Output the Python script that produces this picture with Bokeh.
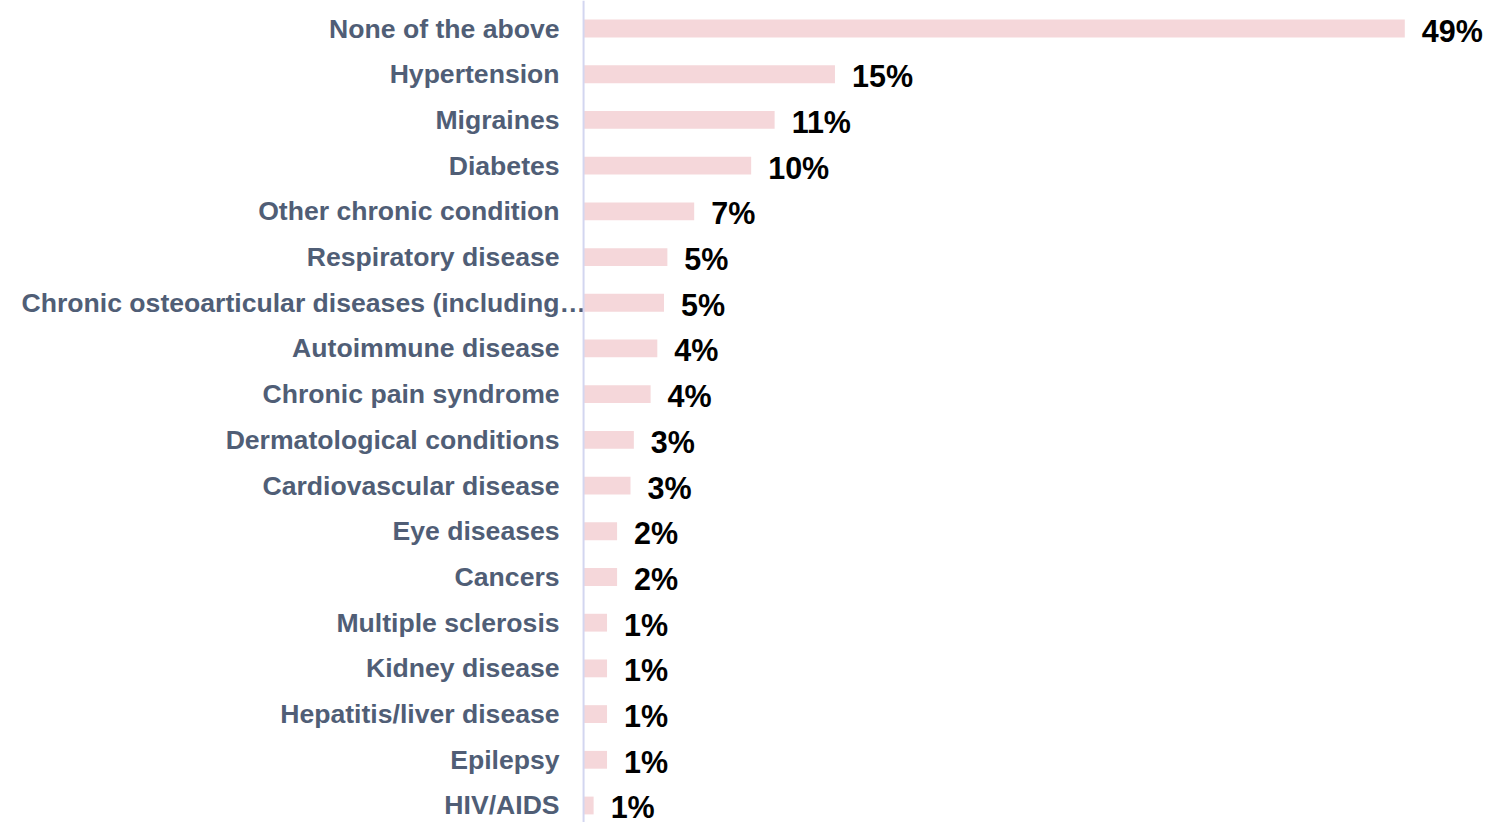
from bokeh.plotting import figure
from bokeh.models import Range1d, ColumnDataSource, Span
from bokeh.core.properties import value
from bokeh.embed import file_html
from bokeh.resources import INLINE

# Data (top to bottom as in the reference)
categories = [
    "None of the above",
    "Hypertension",
    "Migraines",
    "Diabetes",
    "Other chronic condition",
    "Respiratory disease",
    "Chronic osteoarticular diseases (including\u2026",
    "Autoimmune disease",
    "Chronic pain syndrome",
    "Dermatological conditions",
    "Cardiovascular disease",
    "Eye diseases",
    "Cancers",
    "Multiple sclerosis",
    "Kidney disease",
    "Hepatitis/liver disease",
    "Epilepsy",
    "HIV/AIDS",
]
values = [49.0, 15.0, 11.4, 10.0, 6.6, 5.0, 4.8, 4.4, 4.0, 3.0, 2.8, 2.0, 2.0, 1.4, 1.4, 1.4, 1.4, 0.6]
value_labels = ["49%", "15%", "11%", "10%", "7%", "5%", "5%", "4%", "4%", "3%", "3%",
                "2%", "2%", "1%", "1%", "1%", "1%", "1%"]

n = len(categories)
ypos = [n - 1 - i + 0.5 for i in range(n)]

long_label = "Chronic osteoarticular diseases (including\u2026"
short_idx = [i for i, c in enumerate(categories) if c != long_label]
long_idx = categories.index(long_label)

src = ColumnDataSource(dict(y=ypos, v=values, lab=value_labels))
cat_src = ColumnDataSource(dict(y=[ypos[i] for i in short_idx],
                                cat=[categories[i] for i in short_idx]))

LABEL_COLOR = "#505E76"
XR = Range1d(-34.79, 54.77)

p = figure(width=1501, height=822, output_backend="svg", toolbar_location=None,
           x_range=XR, y_range=Range1d(0.128, 18.113),
           min_border_left=0, min_border_right=0, min_border_top=0, min_border_bottom=0)

p.hbar(y="y", right="v", left=0, height=0.39, source=src, color="#F5D7DA", line_color=None)

# axis line at zero
p.add_layout(Span(location=0, dimension="height", line_color="#D3D6F0", line_width=2))

# value labels
p.text(x="v", y="y", text="lab", source=src, x_offset=17, y_offset=2,
       text_font=value("Liberation Sans"), text_font_style="bold",
       text_font_size="30.5px", text_color="#000000",
       text_align="left", text_baseline="middle")

# category labels
p.text(x=0, y="y", text="cat", source=cat_src, x_offset=-24,
       text_font=value("Liberation Sans"), text_font_style="bold",
       text_font_size="26.6px", text_color=LABEL_COLOR,
       text_align="right", text_baseline="middle")

p.text(x=[XR.start], y=[ypos[long_idx]], text=[long_label], x_offset=21,
       text_font=value("Liberation Sans"), text_font_style="bold",
       text_font_size="26.6px", text_color=LABEL_COLOR,
       text_align="left", text_baseline="middle")

p.xaxis.visible = False
p.yaxis.visible = False
p.xgrid.visible = False
p.ygrid.visible = False
p.outline_line_color = None
p.background_fill_color = "white"
p.border_fill_color = "white"

open("out.html", "w").write(file_html(p, INLINE))
